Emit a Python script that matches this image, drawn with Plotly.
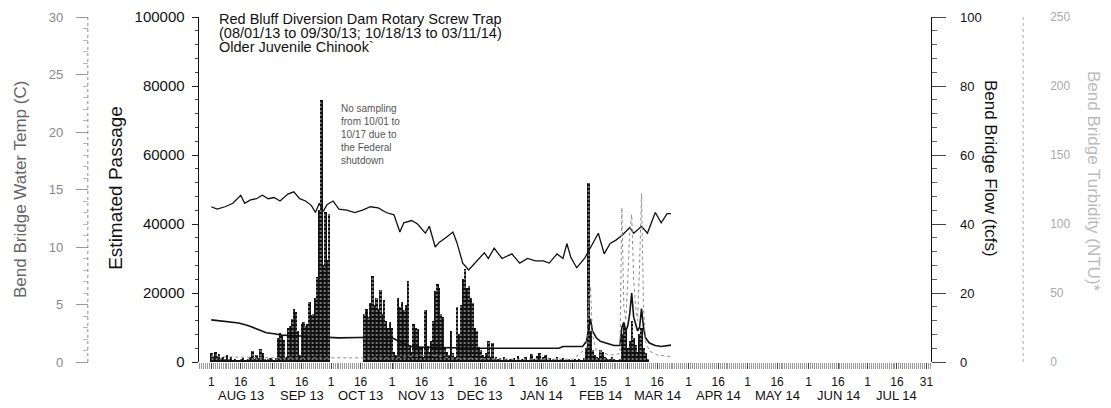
import plotly.graph_objects as go
import pandas as pd

# daily estimated passage, by sampling month
passage_aug = [2500, 1500, 2800, 1800, 2200, 1200, 1500, 1000, 2000, 800, 1400, 600, 1000, 700,
               500, 800, 1200, 400, 600, 900, 1500, 3200, 1000, 2000, 1200, 3800, 2500, 1000,
               600, 800, 1200]
passage_sep = [1000, 600, 1200, 7000, 8500, 7500, 6500, 1500, 10000, 10500, 12500, 15500, 14500,
               9000, 2000, 11000, 11500, 10500, 11000, 17500, 13500, 14000, 18500, 24500, 44000,
               76000, 28000, 43500, 29500, 43000]
passage_oct = [14000, 15500, 13000, 17000, 25000, 16500, 18500, 15500, 21000, 14000, 18000,
               12000, 10000, 11500]  # 10/18 - 10/31
passage_nov = [10000, 3000, 2000, 18500, 16000, 17500, 15000, 16500, 23500, 5000, 3000, 11000,
               10000, 9500, 4000, 4300, 1500, 15000, 4500, 3000, 6000, 12000, 20500, 22500, 21500,
               14000, 13000, 4300, 3000, 2000]
passage_dec = [9000, 2500, 1500, 16000, 8000, 16500, 24000, 27000, 21500, 22000, 18500, 17000,
               10000, 9000, 4300, 3500, 2000, 1500, 2500, 6000, 1500, 5500, 1000, 1500, 800, 1200,
               600, 1500, 800, 500, 1000]
passage_jan = [800, 1200, 500, 1800, 600, 900, 400, 1500, 700, 500, 2200, 900, 600, 1800, 2500,
               800, 1500, 2000, 700, 1200, 500, 900, 600, 1500, 400, 800, 1200, 600, 500, 900, 700]
passage_feb = [600, 800, 500, 1000, 700, 500, 1200, 4000, 52000, 9000, 3500, 2000, 1500, 1200,
               3500, 2800, 1500, 1200, 800, 1000, 1500, 900, 700, 500, 800, 8000, 11000, 9000]
passage_mar = [4000, 6000, 12000, 7000, 5000, 3000, 8000, 10000, 4000, 2500, 1000]

passage_starts = ['2013-08-01', '2013-09-01', '2013-10-18', '2013-11-01', '2013-12-01',
                  '2014-01-01', '2014-02-01', '2014-03-01']
passage_months = [passage_aug, passage_sep, passage_oct, passage_nov, passage_dec,
                  passage_jan, passage_feb, passage_mar]

temp_dates = ['2013-08-01', '2013-08-04', '2013-08-08', '2013-08-12', '2013-08-16', '2013-08-18',
              '2013-08-21', '2013-08-24', '2013-08-27', '2013-08-30', '2013-09-02', '2013-09-05',
              '2013-09-09', '2013-09-12', '2013-09-15', '2013-09-18', '2013-09-21', '2013-09-23',
              '2013-09-25', '2013-09-27', '2013-09-29', '2013-10-02', '2013-10-05', '2013-10-09',
              '2013-10-13', '2013-10-17', '2013-10-21', '2013-10-25', '2013-10-29', '2013-11-02',
              '2013-11-05', '2013-11-07', '2013-11-11', '2013-11-14', '2013-11-18', '2013-11-20',
              '2013-11-23', '2013-11-25', '2013-11-29', '2013-12-02', '2013-12-04', '2013-12-07',
              '2013-12-10', '2013-12-13', '2013-12-18', '2013-12-20', '2013-12-23', '2013-12-27',
              '2014-01-01', '2014-01-05', '2014-01-09', '2014-01-13', '2014-01-17', '2014-01-20',
              '2014-01-24', '2014-01-27', '2014-01-29', '2014-01-31', '2014-02-03', '2014-02-07',
              '2014-02-10', '2014-02-14', '2014-02-17', '2014-02-20', '2014-02-23', '2014-02-26',
              '2014-03-02', '2014-03-04', '2014-03-08', '2014-03-11', '2014-03-15', '2014-03-18',
              '2014-03-21', '2014-03-23']
temp_c = [13.5, 13.3, 13.5, 13.8, 14.5, 13.8, 14.1, 14.2, 14.5, 14.2, 14.3, 14.0, 14.6, 14.8,
          14.2, 14.0, 13.6, 13.0, 13.8, 13.1, 13.7, 14.0, 13.3, 13.2, 13.0, 13.2, 13.5, 13.4,
          13.0, 12.8, 11.3, 12.1, 12.3, 12.0, 11.2, 11.8, 10.0, 10.4, 10.9, 11.3, 10.4, 8.6,
          8.0, 8.6, 9.5, 9.0, 9.9, 9.0, 9.4, 8.6, 9.0, 8.8, 8.8, 8.6, 9.4, 9.0, 10.3, 9.1,
          8.2, 9.0, 9.9, 11.2, 9.4, 10.3, 10.6, 11.0, 11.7, 11.2, 11.8, 11.2, 13.0, 12.1,
          12.9, 12.9]

flow_dates = ['2013-08-01', '2013-08-06', '2013-08-10', '2013-08-15', '2013-08-20', '2013-08-25',
              '2013-08-29', '2013-09-02', '2013-09-06', '2013-09-12', '2013-09-20', '2013-09-28',
              '2013-10-05', '2013-10-15', '2013-10-25', '2013-11-01', '2013-11-08', '2013-11-12',
              '2013-11-20', '2013-12-01', '2013-12-15', '2014-01-01', '2014-01-15', '2014-01-25',
              '2014-01-27', '2014-02-06', '2014-02-08', '2014-02-09', '2014-02-10', '2014-02-11',
              '2014-02-13', '2014-02-15', '2014-02-18', '2014-02-22', '2014-02-25', '2014-02-26',
              '2014-02-27', '2014-02-28', '2014-03-01', '2014-03-02', '2014-03-03', '2014-03-04',
              '2014-03-05', '2014-03-06', '2014-03-07', '2014-03-08', '2014-03-09', '2014-03-10',
              '2014-03-12', '2014-03-15', '2014-03-18', '2014-03-21', '2014-03-23']
flow_tcfs = [12.2, 11.8, 11.5, 11.3, 10.5, 9.4, 8.5, 8.2, 7.8, 7.6, 7.4, 7.2, 7.0, 7.1, 7.2,
             7.0, 5.0, 4.3, 4.2, 4.1, 4.0, 4.0, 3.9, 4.0, 4.5, 4.5, 6.0, 10.0, 12.5, 9.0, 7.0,
             6.0, 5.5, 4.8, 4.8, 10.0, 11.5, 9.0, 10.5, 14.0, 20.0, 13.0, 11.0, 9.0, 10.0, 15.5,
             10.0, 7.0, 5.5, 4.8, 4.5, 4.8, 4.9]

turb_dates = ['2013-08-01', '2013-09-01', '2013-10-01', '2013-11-01', '2013-11-20', '2013-12-01',
              '2014-01-01', '2014-02-01', '2014-02-08', '2014-02-09', '2014-02-10', '2014-02-11',
              '2014-02-13', '2014-02-20', '2014-02-25', '2014-02-26', '2014-02-27', '2014-02-28',
              '2014-03-01', '2014-03-02', '2014-03-03', '2014-03-04', '2014-03-05', '2014-03-06',
              '2014-03-07', '2014-03-08', '2014-03-09', '2014-03-10', '2014-03-12', '2014-03-16',
              '2014-03-23']
turb_ntu = [4, 3, 3, 3, 5, 3, 2, 2, 10, 40, 55, 20, 8, 5, 6, 112, 40, 30, 60, 95, 107, 60, 40,
            30, 70, 122, 40, 15, 8, 5, 4]

tick_dates = ['2013-08-01', '2013-08-16', '2013-09-01', '2013-09-16', '2013-10-01', '2013-10-16',
              '2013-11-01', '2013-11-16', '2013-12-01', '2013-12-16', '2014-01-01', '2014-01-16',
              '2014-02-01', '2014-02-15', '2014-03-01', '2014-03-16', '2014-04-01', '2014-04-16',
              '2014-05-01', '2014-05-16', '2014-06-01', '2014-06-16', '2014-07-01', '2014-07-16',
              '2014-07-31']
tick_text = [str(int(d[-2:])) for d in tick_dates]
month_labels = ['AUG 13', 'SEP 13', 'OCT 13', 'NOV 13', 'DEC 13', 'JAN 14', 'FEB 14', 'MAR 14',
                'APR 14', 'MAY 14', 'JUN 14', 'JUL 14']
month_mid = [d for d in tick_dates if d[-2:] in ('16', '15')]

# the page body has an 8px margin, so the figure is drawn 8px in from the corner
OFF = 8
W, H = 1111 - OFF, 408 - OFF
TOP, BOT = 15, 362  # plot area, in window pixels


def px(x):
    return (x - OFF) / W


def py(y):
    return (BOT - y) / (BOT - TOP)


FONT = 'Arial, Liberation Sans, sans-serif'

passage_x, passage_y = [], []
for start, vals in zip(passage_starts, passage_months):
    passage_x += list(pd.date_range(start, periods=len(vals), freq='D'))
    passage_y += vals

fig = go.Figure()
fig.add_trace(go.Bar(
    x=passage_x, y=passage_y, yaxis='y',
    marker=dict(color='#111', line=dict(width=0),
                pattern=dict(shape='.', fillmode='replace', bgcolor='#111', fgcolor='#fff',
                             size=4, solidity=0.12)),
    name='Passage',
))
fig.add_trace(go.Scatter(
    x=turb_dates, y=turb_ntu, yaxis='y4', mode='lines',
    line=dict(color='#8a8a8a', width=1, dash='dot'), name='Turbidity',
))
fig.add_trace(go.Scatter(
    x=temp_dates, y=temp_c, yaxis='y3', mode='lines',
    line=dict(color='#111', width=1.3), name='Temp',
))
fig.add_trace(go.Scatter(
    x=flow_dates, y=flow_tcfs, yaxis='y2', mode='lines',
    line=dict(color='#111', width=1.6), name='Flow',
))

annotations = []
for t, d in zip(month_labels, month_mid):
    annotations.append(dict(x=d, y=py(396), xref='x', yref='paper', text=t, showarrow=False,
                            yanchor='middle', font=dict(size=13, color='#111', family=FONT)))

title_lines = ['Red Bluff Diversion Dam Rotary Screw Trap',
               '(08/01/13 to 09/30/13; 10/18/13 to 03/11/14)',
               'Older Juvenile Chinook`']
for line, yy in zip(title_lines, [17, 31, 45]):
    annotations.append(dict(x=px(217), y=py(yy), xref='paper', yref='paper', text=line,
                            xanchor='left', yanchor='middle', showarrow=False,
                            font=dict(size=14.5, color='#111', family=FONT)))

annotations += [
    dict(x=px(340), y=py(99), xref='paper', yref='paper', xanchor='left', yanchor='top',
         align='left', showarrow=False,
         text='No sampling<br>from 10/01 to<br>10/17 due to<br>the Federal<br>shutdown',
         font=dict(size=10, color='#555', family=FONT)),
    dict(x=px(20), y=py(188), xref='paper', yref='paper', text='Bend Bridge Water Temp (C)',
         textangle=-90, xanchor='center', yanchor='middle', showarrow=False,
         font=dict(size=17, color='#666', family=FONT)),
    dict(x=px(115), y=py(187), xref='paper', yref='paper', text='Estimated Passage',
         textangle=-90, xanchor='center', yanchor='middle', showarrow=False,
         font=dict(size=19, color='#111', family=FONT)),
    dict(x=px(993), y=py(167), xref='paper', yref='paper', text='Bend Bridge Flow (tcfs)',
         textangle=90, xanchor='center', yanchor='middle', showarrow=False,
         font=dict(size=17, color='#111', family=FONT)),
    dict(x=px(1096), y=py(180), xref='paper', yref='paper', text='Bend Bridge Turbidity (NTU)*',
         textangle=90, xanchor='center', yanchor='middle', showarrow=False,
         font=dict(size=17, color='#bbb', family=FONT)),
]

shapes = [
    dict(type='line', xref='paper', yref='paper', x0=px(88), x1=px(88), y0=0, y1=1,
         line=dict(color='#888', width=1, dash='dot')),
    dict(type='line', xref='paper', yref='paper', x0=px(1025), x1=px(1025), y0=0, y1=1,
         line=dict(color='#aaa', width=1, dash='dot')),
]

fig.update_layout(
    width=W, height=H,
    margin=dict(l=0, r=0, t=TOP - OFF, b=H - (BOT - OFF)),
    plot_bgcolor='white', paper_bgcolor='white',
    showlegend=False, bargap=0,
    font=dict(family=FONT, color='#111'),
    xaxis=dict(
        type='date', domain=[px(199), px(933)],
        range=['2013-07-25 14:00', '2014-08-02 12:00'],
        tickvals=tick_dates, ticktext=tick_text, ticks='outside', ticklen=6,
        tickcolor='#444', tickfont=dict(size=12), ticklabelstandoff=3,
        minor=dict(dtick=86400000, tick0='2013-08-01', ticks='outside', ticklen=6,
                   tickcolor='#999', tickwidth=1),
        showgrid=False, zeroline=False, showline=False,
    ),
    yaxis=dict(
        range=[0, 100000], tickvals=[0, 20000, 40000, 60000, 80000, 100000], tickformat='d',
        ticks='outside', ticklen=6, tickcolor='#222', ticklabelstandoff=4,
        ticklabeloverflow='allow',
        minor=dict(dtick=4000, ticks='outside', ticklen=3, tickcolor='#444'),
        showline=True, linecolor='#111', linewidth=1, showgrid=False, zeroline=False,
        tickfont=dict(size=15),
    ),
    yaxis2=dict(
        overlaying='y', side='right', anchor='x', range=[0, 100], dtick=20,
        ticks='outside', ticklen=14, tickcolor='#444', ticklabelstandoff=11,
        ticklabeloverflow='allow',
        minor=dict(dtick=4, ticks='outside', ticklen=5, tickcolor='#666'),
        showline=True, linecolor='#111', linewidth=1, showgrid=False, zeroline=False,
        tickfont=dict(size=13),
    ),
    yaxis3=dict(
        overlaying='y', side='left', anchor='free', position=px(88), range=[0, 30], dtick=5,
        ticks='outside', ticklen=12, tickcolor='#999', ticklabelstandoff=10,
        ticklabeloverflow='allow',
        minor=dict(dtick=1, ticks='outside', ticklen=5, tickcolor='#bbb'),
        showline=False, showgrid=False, zeroline=False,
        tickfont=dict(size=13, color='#888'),
    ),
    yaxis4=dict(
        overlaying='y', side='right', anchor='free', position=px(1025), range=[0, 250],
        dtick=50, ticks='', ticklabelstandoff=26, ticklabeloverflow='allow',
        showline=False, showgrid=False, zeroline=False,
        tickfont=dict(size=12, color='#aaa'),
    ),
    annotations=annotations,
    shapes=shapes,
)

fig.write_html('out.html')
